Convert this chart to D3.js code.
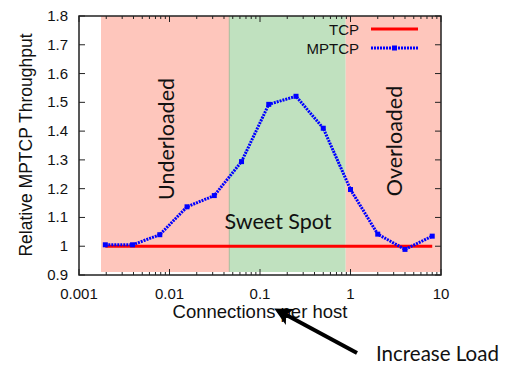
<!DOCTYPE html>
<html>
<head>
<meta charset="utf-8">
<script src="https://cdn.jsdelivr.net/npm/d3@7"></script>
<style>
  body { margin: 0; background: #fff; }
  svg { display: block; }
  .tick-label { font-family: "Liberation Sans", Arial, sans-serif; font-size: 15px; fill: #111; }
  .axis-label { font-family: "Liberation Sans", Arial, sans-serif; font-size: 17.5px; fill: #111; }
  .region { font-family: Lato, "Open Sans", sans-serif; font-size: 21.5px; fill: #111; }
</style>
</head>
<body>
<svg id="chart" width="510" height="365"></svg>
<script>
// connections per host (2^-9 .. 2^3)
const conns = [1/512, 1/256, 1/128, 1/64, 1/32, 1/16, 1/8, 1/4, 1/2, 1, 2, 4, 8];
const mptcp = [1.005, 1.005, 1.04, 1.137, 1.176, 1.294, 1.493, 1.521, 1.41, 1.197, 1.042, 0.989, 1.035];
const tcp = [1, 1, 1, 1, 1, 1, 1, 1, 1, 1, 1, 1, 1];

const x_ticks = [0.001, 0.01, 0.1, 1, 10];
const y_ticks = [0.9, 1, 1.1, 1.2, 1.3, 1.4, 1.5, 1.6, 1.7, 1.8];

// shaded load regions
const region_names = ['Underloaded', 'Sweet Spot', 'Overloaded'];
const region_from = [0.00175, 0.0458, 0.885];
const region_to = [0.0458, 0.885, 10];
const region_colors = ['#fec6bc', '#c0e1bf', '#fec6bc'];

const svg = d3.select('#chart');
const p_left = 79, p_right = 441, p_top = 16, p_bottom = 275;

const xScale = d3.scaleLog().domain([0.001, 10]).range([p_left, p_right]);
const yScale = d3.scaleLinear().domain([0.9, 1.8]).range([p_bottom, p_top]);

// background bands
svg.selectAll('.band')
    .data(region_names)
    .enter()
    .append('rect')
    .attr('x', (d, i) => xScale(region_from[i]))
    .attr('y', p_top)
    .attr('width', (d, i) => xScale(region_to[i]) - xScale(region_from[i]))
    .attr('height', 256)
    .attr('fill', (d, i) => region_colors[i]);

svg.append('line')
    .attr('x1', xScale(region_from[1])).attr('x2', xScale(region_from[1]))
    .attr('y1', p_top).attr('y2', p_top + 256)
    .attr('stroke', '#a9b99a').attr('stroke-width', 1);

// ticks (inward, gnuplot style)
const g_ticks = svg.append('g').attr('stroke', '#222').attr('stroke-width', 1);
for (const t of y_ticks) {
    const y = yScale(t);
    g_ticks.append('line').attr('x1', p_left).attr('x2', p_left + 6).attr('y1', y).attr('y2', y);
    g_ticks.append('line').attr('x1', p_right).attr('x2', p_right - 6).attr('y1', y).attr('y2', y);
}
const minor = [];
for (let e = -3; e < 1; e++) {
    for (let m = 2; m <= 9; m++) minor.push(m * Math.pow(10, e));
}
for (const t of x_ticks) {
    const x = xScale(t);
    g_ticks.append('line').attr('x1', x).attr('x2', x).attr('y1', p_bottom).attr('y2', p_bottom - 6);
    g_ticks.append('line').attr('x1', x).attr('x2', x).attr('y1', p_top).attr('y2', p_top + 6);
}
for (const t of minor) {
    const x = xScale(t);
    g_ticks.append('line').attr('x1', x).attr('x2', x).attr('y1', p_bottom).attr('y2', p_bottom - 3);
    g_ticks.append('line').attr('x1', x).attr('x2', x).attr('y1', p_top).attr('y2', p_top + 3);
}

// tick labels
svg.selectAll('.ylab')
    .data(y_ticks)
    .enter()
    .append('text')
    .attr('class', 'tick-label')
    .attr('x', 68)
    .attr('y', (d) => yScale(d) + 5)
    .attr('text-anchor', 'end')
    .text((d) => d);

svg.selectAll('.xlab')
    .data(x_ticks)
    .enter()
    .append('text')
    .attr('class', 'tick-label')
    .attr('x', (d) => xScale(d))
    .attr('y', 299)
    .attr('text-anchor', 'middle')
    .text((d) => d);

// frame
svg.append('rect')
    .attr('x', p_left).attr('y', p_top)
    .attr('width', p_right - p_left).attr('height', p_bottom - p_top)
    .attr('fill', 'none').attr('stroke', '#222').attr('stroke-width', 1.5);

// series
const line = d3.line().x((d) => xScale(d[0])).y((d) => yScale(d[1]));

svg.append('path')
    .datum(conns.map((c, i) => [c, tcp[i]]))
    .attr('d', line)
    .attr('fill', 'none')
    .attr('stroke', '#ff0000')
    .attr('stroke-width', 3);

svg.append('path')
    .datum(conns.map((c, i) => [c, mptcp[i]]))
    .attr('d', line)
    .attr('fill', 'none')
    .attr('stroke', '#0000ff')
    .attr('stroke-width', 3)
    .attr('stroke-dasharray', '2,1');

svg.selectAll('.pt')
    .data(conns)
    .enter()
    .append('rect')
    .attr('x', (d) => xScale(d) - 2.5)
    .attr('y', (d, i) => yScale(mptcp[i]) - 2.5)
    .attr('width', 5).attr('height', 5)
    .attr('fill', '#0000ff');

// legend
const legend_labels = ['TCP', 'MPTCP'];
const legend_colors = ['#ff0000', '#0000ff'];
const legend_y = [29, 48];
legend_labels.forEach((label, i) => {
    const y = legend_y[i];
    svg.append('text')
        .attr('class', 'tick-label')
        .attr('x', 359).attr('y', y + 5.5)
        .attr('text-anchor', 'end')
        .text(label);
    svg.append('line')
        .attr('x1', 371).attr('x2', 418)
        .attr('y1', y).attr('y2', y)
        .attr('stroke', legend_colors[i]).attr('stroke-width', 3)
        .attr('stroke-dasharray', i === 1 ? '2,1' : null);
    if (i === 1) {
        svg.append('rect').attr('x', 392).attr('y', y - 2.5)
            .attr('width', 5).attr('height', 5).attr('fill', legend_colors[i]);
    }
});

// axis titles
svg.append('text')
    .attr('class', 'axis-label')
    .attr('transform', 'translate(32,145) rotate(-90)')
    .attr('text-anchor', 'middle')
    .text('Relative MPTCP Throughput');

svg.append('text')
    .attr('class', 'axis-label')
    .style('font-size', '18.5px')
    .attr('x', 260).attr('y', 318)
    .attr('text-anchor', 'middle')
    .text('Connections per host');

// region labels
svg.append('text')
    .attr('class', 'region')
    .attr('transform', 'translate(174,139) rotate(-90)')
    .attr('text-anchor', 'middle')
    .text(region_names[0]);

svg.append('text')
    .attr('class', 'region')
    .attr('transform', 'translate(402,141) rotate(-90)')
    .attr('text-anchor', 'middle')
    .text(region_names[2]);

svg.append('text')
    .attr('class', 'region')
    .attr('x', 278).attr('y', 229)
    .attr('text-anchor', 'middle')
    .text(region_names[1]);

// increase load arrow
svg.append('defs').append('marker')
    .attr('id', 'head')
    .attr('viewBox', '0 0 10 10')
    .attr('refX', 7).attr('refY', 5)
    .attr('markerWidth', 5).attr('markerHeight', 4.5)
    .attr('orient', 'auto')
    .append('path')
    .attr('d', 'M0,0 L10,5 L0,10 L2.5,5 Z')
    .attr('fill', '#000');

svg.append('line')
    .attr('x1', 357).attr('y1', 353)
    .attr('x2', 279).attr('y2', 311)
    .attr('stroke', '#000').attr('stroke-width', 4)
    .attr('marker-end', 'url(#head)');

svg.append('text')
    .attr('class', 'region')
    .style('font-size', '20.5px')
    .attr('x', 376).attr('y', 361)
    .text('Increase Load');
</script>
</body>
</html>
